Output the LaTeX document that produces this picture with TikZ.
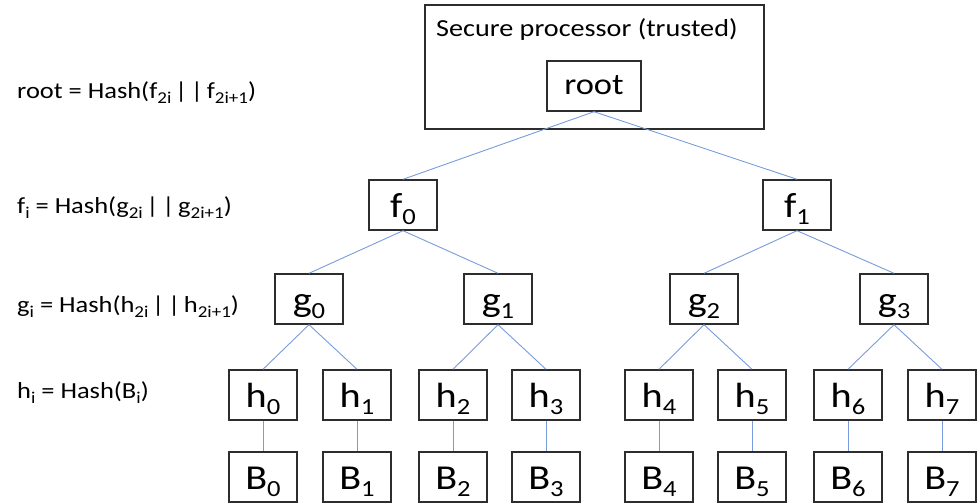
\documentclass[tikz,border=0pt]{standalone}
\usepackage{fontspec}
\setmainfont{Carlito}
\newfontfamily\widefont[FakeStretch=1.15]{Carlito}
% lowered, reduced index
\newcommand\lo[1]{\raisebox{-0.22em}{\scalebox{0.66}{#1}}}
\newcommand\lof[1]{\raisebox{-0.24em}{\scalebox{0.72}{#1}}}
% concatenation bars
\newcommand\cat{\hspace{0.16em}|\hspace{0.16em}|\hspace{0.16em}}
\definecolor{boxgray}{RGB}{45,45,45}
\definecolor{linkblue}{RGB}{120,156,220}
\begin{document}
\begin{tikzpicture}[x=1pt,y=-1pt,
  hashbox/.style={draw=boxgray, line width=1.4pt, minimum width=68pt,
    minimum height=50pt, inner sep=0pt, text height=37pt, text depth=13pt,
    font=\widefont\fontsize{35}{35}\selectfont},
  link/.style={draw=linkblue, line width=0.9pt},
  formula/.style={anchor=base west, inner sep=0pt,
    font=\widefont\fontsize{23}{23}\selectfont}]
\useasboundingbox (0,0) rectangle (980,503);

% trusted area
\node[draw=boxgray, line width=1.4pt, minimum width=339pt, minimum height=124pt,
  inner sep=0pt] (secure) at (594.5,67) {};
\node[anchor=base west, inner sep=0pt,
  font=\widefont\fontsize{24.5}{24.5}\selectfont] (sptitle) at (436,37)
  {Secure processor (trusted)};
\node[hashbox, minimum width=94pt, text height=34pt, text depth=16pt,
  font=\widefont\fontsize{30}{30}\selectfont]
  (root) at (594,86) {root};

% tree levels
\node[hashbox] (f0) at (403,205) {f\lo{0}};
\node[hashbox] (f1) at (797,205) {f\lo{1}};

\node[hashbox] (g0) at (309,299) {g\lo{0}};
\node[hashbox] (g1) at (498,299) {g\lo{1}};
\node[hashbox] (g2) at (704,299) {g\lo{2}};
\node[hashbox] (g3) at (894,299) {g\lo{3}};

\foreach \i/\x in {0/263,1/357,2/453,3/546,4/659,5/752,6/848,7/942}{
  \node[hashbox] (h\i) at (\x,395) {h\lo{\i}};
  \node[hashbox] (B\i) at (\x,477) {B\lo{\i}};
  \draw[link] (h\i.south) -- (B\i.north);
}

\draw[link] (root.south) -- (f0.north);
\draw[link] (root.south) -- (f1.north);
\draw[link] (f0.south) -- (g0.north);
\draw[link] (f0.south) -- (g1.north);
\draw[link] (f1.south) -- (g2.north);
\draw[link] (f1.south) -- (g3.north);
\draw[link] (g0.south) -- (h0.north);
\draw[link] (g0.south) -- (h1.north);
\draw[link] (g1.south) -- (h2.north);
\draw[link] (g1.south) -- (h3.north);
\draw[link] (g2.south) -- (h4.north);
\draw[link] (g2.south) -- (h5.north);
\draw[link] (g3.south) -- (h6.north);
\draw[link] (g3.south) -- (h7.north);

% level formulas
\node[formula] (lroot) at (17,98) {root = Hash(f\lof{2i}\cat f\lof{2i+1})};
\node[formula] (lf) at (17,213) {f\lof{i} = Hash(g\lof{2i}\cat g\lof{2i+1})};
\node[formula] (lg) at (17,312) {g\lof{i} = Hash(h\lof{2i}\cat h\lof{2i+1})};
\node[formula] (lh) at (17,398) {h\lof{i} = Hash(B\lof{i})};
\end{tikzpicture}
\end{document}
